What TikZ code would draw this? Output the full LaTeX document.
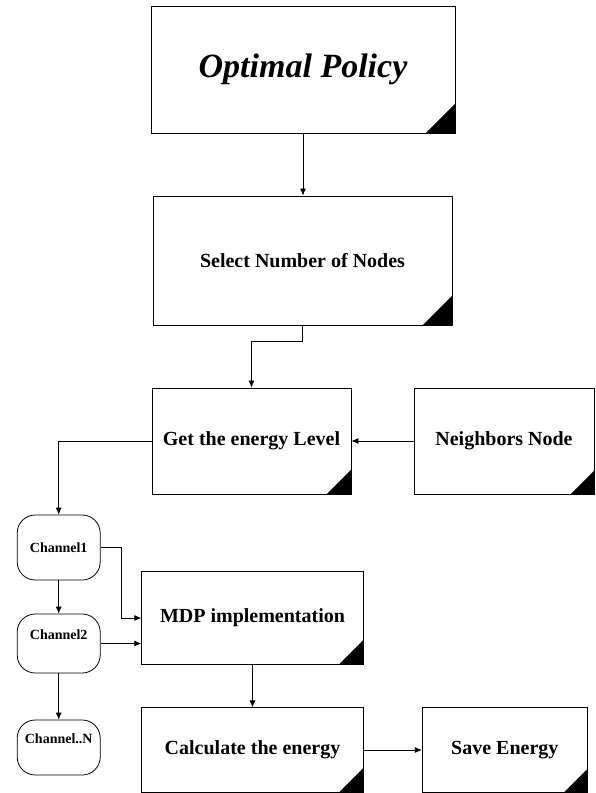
\documentclass[tikz,border=0pt]{standalone}
\usepackage{fontspec}
\setmainfont{Liberation Serif}
\usepackage{tikz}
\usetikzlibrary{arrows.meta}

\begin{document}
\begin{tikzpicture}[x=1pt,y=1pt,yscale=-1,xscale=1,
    stagebox/.style={draw, line width=0.8pt, inner sep=0pt, align=center,
        font=\bfseries\fontsize{20}{24}\selectfont},
    chanbox/.style={draw, line width=0.8pt, inner sep=0pt, rounded corners=18pt,
        minimum width=83pt, font=\bfseries\fontsize{14}{17}\selectfont},
    flow/.style={line width=0.8pt, -{Latex[length=7pt,width=6pt]}}]
                \useasboundingbox (0,0) rectangle (595,793); %set diagram left start at 0, and has height of 793

                % Stage Nodes
                \node [stagebox, minimum width=304pt, minimum height=127pt,
                    font=\bfseries\itshape\fontsize{34}{40}\selectfont] (policy) at (303,69.5) {Optimal Policy};
                \node [stagebox, minimum width=299pt, minimum height=129pt] (select) at (302.5,260.5) {Select Number of Nodes};
                \node [stagebox, minimum width=199pt, minimum height=106pt] (level) at (251.5,441) {Get the energy Level};
                \node [stagebox, minimum width=180pt, minimum height=106pt] (neighbors) at (504,441) {Neighbors Node};
                \node [stagebox, minimum width=221.6pt, minimum height=92.5pt] (mdp) at (252.5,618) {MDP implementation};
                \node [stagebox, minimum width=221.6pt, minimum height=84.3pt] (calc) at (252.5,750) {Calculate the energy};
                \node [stagebox, minimum width=165pt, minimum height=84.3pt] (save) at (504.8,750) {Save Energy};

                % Channel Nodes
                \node [chanbox, minimum height=65pt] (chA) at (58.7,547.5) {Channel1};
                \node [chanbox, minimum height=59pt, text depth=18pt] (chB) at (58.7,643.5) {Channel2};
                \node [chanbox, minimum height=55pt, text depth=17pt] (chN) at (58.7,747.5) {Channel..N};

                % Corner Marks
                \fill (policy.south east) -- ++(-30,0) -- ++(30,-30) -- cycle;
                \fill (select.south east) -- ++(-30,0) -- ++(30,-30) -- cycle;
                \fill (level.south east) -- ++(-25,0) -- ++(25,-25) -- cycle;
                \fill (neighbors.south east) -- ++(-24,0) -- ++(24,-24) -- cycle;
                \fill (mdp.south east) -- ++(-25,0) -- ++(25,-25) -- cycle;
                \fill (calc.south east) -- ++(-25,0) -- ++(25,-25) -- cycle;
                \fill (save.south east) -- ++(-24,0) -- ++(24,-24) -- cycle;

                % Connectors
                \draw [flow] (policy.south) -- (policy.south |- select.north);
                \draw [flow] (select.south) -- ++(0,16) -| (level.north);
                \draw [flow] (neighbors.west) -- (level.east);
                \draw [flow] (level.west) -| (chA.north);
                \draw [flow] (chA.south) -- (chB.north);
                \draw [flow] (chB.south) -- (chN.north);
                \draw [flow] (chA.east) -- ++(21,0) |- (mdp.west);
                \draw [flow] (chB.east) -- (chB.east -| mdp.west);
                \draw [flow] (mdp.south) -- (calc.north);
                \draw [flow] (calc.east) -- (save.west);

            \end{tikzpicture}
\end{document}
